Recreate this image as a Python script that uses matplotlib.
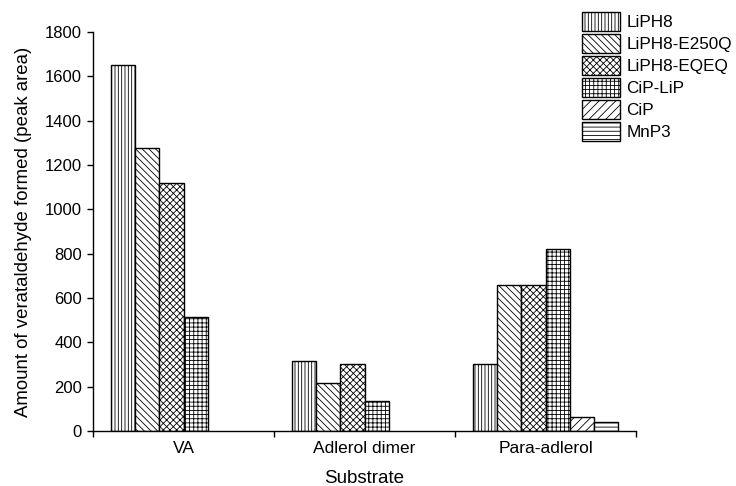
import numpy as np
import matplotlib
matplotlib.use("Agg")
import matplotlib.pyplot as plt

plt.rcParams['font.family'] = ['Liberation Sans', 'DejaVu Sans']
plt.rcParams['hatch.linewidth'] = 0.6

# peak areas for each enzyme and substrate
substrates = ["VA", "Adlerol dimer", "Para-adlerol"]
enzymes = ["LiPH8", "LiPH8-E250Q", "LiPH8-EQEQ", "CiP-LiP", "CiP", "MnP3"]
liph8 = [1650, 316, 302]
liph8_e250q = [1275, 218, 660]
liph8_eqeq = [1120, 304, 660]
cip_lip = [516, 137, 821]
cip = [0, 0, 65]
mnp3 = [0, 0, 42]

values = [liph8, liph8_e250q, liph8_eqeq, cip_lip, cip, mnp3]
hatches = ['|||||', '\\\\\\\\\\', 'xxxxx', '++++', '////', '----']

fig = plt.figure(figsize=(7.36, 4.86), dpi=100)
ax = fig.add_axes([0.1264, 0.1132, 0.7378, 0.8210])

centers = np.arange(len(substrates)) + 0.5
width = 0.8 / len(enzymes)
for i, (name, vals, h) in enumerate(zip(enzymes, values, hatches)):
    x = centers - 0.4 + width * (i + 0.5)
    v = np.array(vals, dtype=float)
    mask = v > 0
    ax.bar(x[mask], v[mask], width=width, color='white', edgecolor='black',
           linewidth=1.0, hatch=h, label=name)

ax.set_xlim(0, 3)
ax.set_ylim(0, 1800)
ax.set_yticks(np.arange(0, 1801, 200))
ax.set_xticks([0, 1, 2, 3])
ax.set_xticklabels([])
ax.set_xticks(centers, substrates, minor=True)
ax.tick_params(axis='x', which='minor', length=0, pad=7, labelsize=12.5)
ax.tick_params(axis='x', which='major', direction='out', length=4, width=1)
ax.tick_params(axis='y', direction='out', length=4.5, width=1, labelsize=12)

for s in ['top', 'right']:
    ax.spines[s].set_visible(False)
for s in ['left', 'bottom']:
    ax.spines[s].set_linewidth(1.0)

ax.set_xlabel("Substrate", fontsize=13.5, labelpad=10)
ax.set_ylabel("Amount of verataldehyde formed (peak area)", fontsize=13.4, labelpad=9)

fig.legend(loc='upper left', bbox_to_anchor=(0.785, 0.985), frameon=False,
           fontsize=12.3, handlelength=2.25, handleheight=1.35,
           labelspacing=0.17, handletextpad=0.35, borderaxespad=0,
           borderpad=0.25)

fig.savefig("out.png", dpi=100)
